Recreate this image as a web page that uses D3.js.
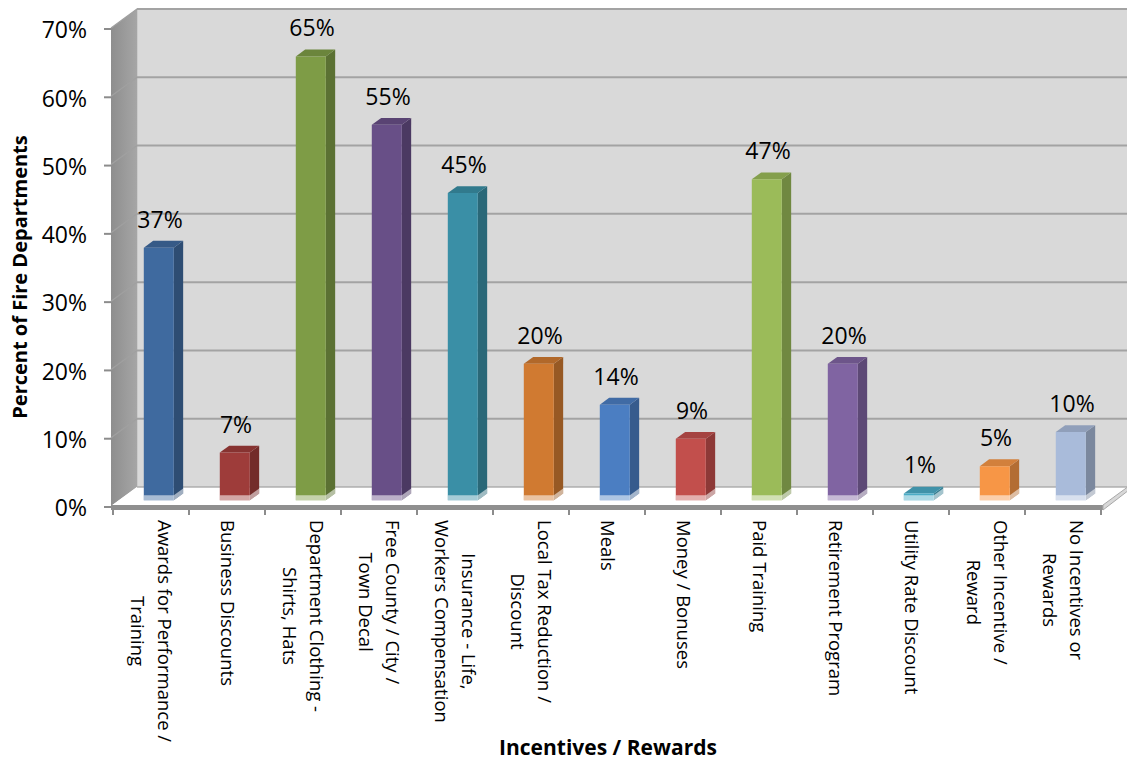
<!DOCTYPE html>
<html>
<head>
<meta charset="utf-8">
<script src="https://cdn.jsdelivr.net/npm/d3@7"></script>
<style>
  html, body { margin: 0; padding: 0; background: #ffffff; }
  svg { display: block; }
  text { font-family: "Open Sans", "Noto Sans", sans-serif; fill: #000; }
</style>
</head>
<body>
<svg id="chart" width="1127" height="765"></svg>
<script>
// ---------------- data ----------------
const categories = [
  "Awards for Performance / Training",
  "Business Discounts",
  "Department Clothing - Shirts, Hats",
  "Free County / City / Town Decal",
  "Insurance - Life, Workers Compensation",
  "Local Tax Reduction / Discount",
  "Meals",
  "Money / Bonuses",
  "Paid Training",
  "Retirement Program",
  "Utility Rate Discount",
  "Other Incentive / Reward",
  "No Incentives or Rewards"
];
const categoryLines = [
  ["Awards for Performance /", "Training"],
  ["Business Discounts"],
  ["Department Clothing -", "Shirts, Hats"],
  ["Free County / City /", "Town Decal"],
  ["Insurance - Life,", "Workers Compensation"],
  ["Local Tax Reduction /", "Discount"],
  ["Meals"],
  ["Money / Bonuses"],
  ["Paid Training"],
  ["Retirement Program"],
  ["Utility Rate Discount"],
  ["Other Incentive /", "Reward"],
  ["No Incentives or", "Rewards"]
];
const percentValues = [37, 7, 65, 55, 45, 20, 14, 9, 47, 20, 1, 5, 10];
const valueLabels = ["37%", "7%", "65%", "55%", "45%", "20%", "14%", "9%", "47%", "20%", "1%", "5%", "10%"];
const yTickValues = [0, 10, 20, 30, 40, 50, 60, 70];
const yTickLabels = ["0%", "10%", "20%", "30%", "40%", "50%", "60%", "70%"];
const barColors = ["#3F6A9F", "#9E3C3A", "#7E9C46", "#684F87", "#3A8FA6", "#D07A31",
                   "#4B7EC2", "#C24F4C", "#9BBB59", "#8064A2", "#4BACC6", "#F79646", "#A9BBDA"];
const yAxisTitle = "Percent of Fire Departments";
const xAxisTitle = "Incentives / Rewards";

// ---------------- layout ----------------
const svg = d3.select("#chart");
const DX = 26, DY = -19;            // depth vector (front -> back)
const zFront = 0.30, zBack = 0.66;  // bar depth span
const x = d3.scaleBand().domain(categories).range([113, 1101]).paddingInner(0).paddingOuter(0);
const y = d3.scaleLinear().domain([0, 70]).range([506, 28]);
const barW = 30;
const leftX = 111;
const rightBackX = 1127;

function P(px, py, z) { return [px + z * DX, py + z * DY]; }
const line = d3.line();

// back wall
const wallTop = y(70) + DY, wallBottom = y(0) + DY;
svg.append("rect").attr("x", leftX + DX).attr("y", wallTop)
  .attr("width", rightBackX - (leftX + DX) + 5).attr("height", wallBottom - wallTop)
  .attr("fill", "#D9D9D9").attr("stroke", "#BDBDBD").attr("stroke-width", 1);

// side wall
const sideGrad = svg.append("defs").append("linearGradient").attr("id", "sideg")
  .attr("x1", "0").attr("x2", "1").attr("y1", "0").attr("y2", "0");
sideGrad.append("stop").attr("offset", "0").attr("stop-color", "#8E8E8E");
sideGrad.append("stop").attr("offset", "1").attr("stop-color", "#A6A6A6");
svg.append("path")
  .attr("d", line([[leftX, y(70)], P(leftX, y(70), 1), P(leftX, y(0), 1), [leftX, y(0)]]) + "Z")
  .attr("fill", "url(#sideg)");

// gridlines on back wall and side wall
yTickValues.filter(v => v > 0).forEach(v => {
  svg.append("line").attr("x1", leftX + DX).attr("x2", rightBackX + 5)
    .attr("y1", y(v) + DY).attr("y2", y(v) + DY)
    .attr("stroke", "#A3A3A3").attr("stroke-width", 2);
  svg.append("path").attr("d", line([[leftX, y(v)], P(leftX, y(v), 1)]))
    .attr("stroke", "#A0A0A0").attr("stroke-width", 1.2).attr("fill", "none");
});

// floor
svg.append("path")
  .attr("d", line([[leftX, y(0)], [1103, y(0)], P(1103, y(0), 1), P(leftX, y(0), 1)]) + "Z")
  .attr("fill", "#FFFFFF");
svg.append("line").attr("x1", leftX + DX).attr("x2", rightBackX + 5)
  .attr("y1", y(0) + DY).attr("y2", y(0) + DY).attr("stroke", "#B0B0B0").attr("stroke-width", 1.5);

// bars
const bars = svg.append("g");
categories.forEach((c, i) => {
  const v = percentValues[i];
  const base = d3.color(barColors[i]);
  const sideC = base.darker(0.9).formatHex();
  const topC = base.darker(0.45).formatHex();
  const x0 = x(c) + (x.bandwidth() - barW) / 2;
  const x1 = x0 + barW;
  const yT = y(v), yB = y(0);
  const g = bars.append("g");
  const fTL = P(x0, yT, zFront), fTR = P(x1, yT, zFront), fBR = P(x1, yB, zFront), fBL = P(x0, yB, zFront);
  const bTL = P(x0, yT, zBack), bTR = P(x1, yT, zBack), bBR = P(x1, yB, zBack);
  g.append("path").attr("d", line([fTR, bTR, bBR, fBR]) + "Z").attr("fill", sideC);
  g.append("path").attr("d", line([fTL, bTL, bTR, fTR]) + "Z").attr("fill", topC);
  g.append("path").attr("d", line([fTL, fTR, fBR, fBL]) + "Z").attr("fill", base.formatHex());
  const h = 5;
  g.append("path").attr("d", line([[fBL[0], fBL[1] - h], [fBR[0], fBR[1] - h], [bBR[0], bBR[1] - h], bBR, fBR, fBL]) + "Z")
    .attr("fill", "#FFFFFF").attr("fill-opacity", 0.55);
});

// floor front edge (thickness)
svg.append("path")
  .attr("d", line([[leftX, y(0) - 1], [1103, y(0) - 1], [1103, y(0) + 4], [leftX, y(0) + 4]]) + "Z")
  .attr("fill", "#8F8F8F");
svg.append("path")
  .attr("d", line([[1103, y(0) - 1], P(1103, y(0) - 1, 1), P(1103, y(0) + 3, 1), [1103, y(0) + 4]]) + "Z")
  .attr("fill", "#D8D8D8").attr("stroke", "#A8A8A8").attr("stroke-width", 1);

// y ticks + labels
yTickValues.forEach((v, i) => {
  svg.append("line").attr("x1", 104).attr("x2", leftX).attr("y1", y(v) + 1).attr("y2", y(v) + 1)
    .attr("stroke", "#8C8C8C").attr("stroke-width", 2);
  svg.append("text").attr("x", 87).attr("y", y(v) + 2).attr("dy", "0.36em")
    .attr("text-anchor", "end").attr("font-size", 23).text(yTickLabels[i]);
});

// x ticks
const xTicks = categories.map(c => x(c)).concat([x.range()[1]]);
xTicks.forEach(t => {
  svg.append("line").attr("x1", t).attr("x2", t).attr("y1", y(0) + 4).attr("y2", y(0) + 9)
    .attr("stroke", "#8C8C8C").attr("stroke-width", 2);
});

// value labels
categories.forEach((c, i) => {
  const cx = x(c) + x.bandwidth() / 2 + 9;
  const topFront = y(percentValues[i]) + zFront * DY;
  svg.append("text").attr("x", cx).attr("y", topFront - 20)
    .attr("text-anchor", "middle").attr("font-size", 23).text(valueLabels[i]);
});

// category labels (rotated)
const lineH = 27;
categories.forEach((c, i) => {
  const cx = x(c) + x.bandwidth() / 2;
  const g = svg.append("g").attr("transform", `translate(${cx},520) rotate(90)`);
  const lines = categoryLines[i];
  const texts = lines.map((t, j) => g.append("text")
    .attr("y", (j - (lines.length - 1) / 2) * lineH)
    .attr("dy", "0.35em").attr("font-size", 18.5).attr("text-anchor", "middle").text(t));
  const L = d3.max(texts, t => t.node().getComputedTextLength());
  texts.forEach(t => t.attr("x", L / 2));
});

// axis titles
svg.append("text").attr("transform", "translate(20,277) rotate(-90)")
  .attr("text-anchor", "middle").attr("dy", "0.35em")
  .attr("font-size", 20).attr("font-weight", "bold").text(yAxisTitle);
svg.append("text").attr("x", 608).attr("y", 755)
  .attr("text-anchor", "middle").attr("font-size", 21).attr("font-weight", "bold").text(xAxisTitle);
</script>
</body>
</html>
